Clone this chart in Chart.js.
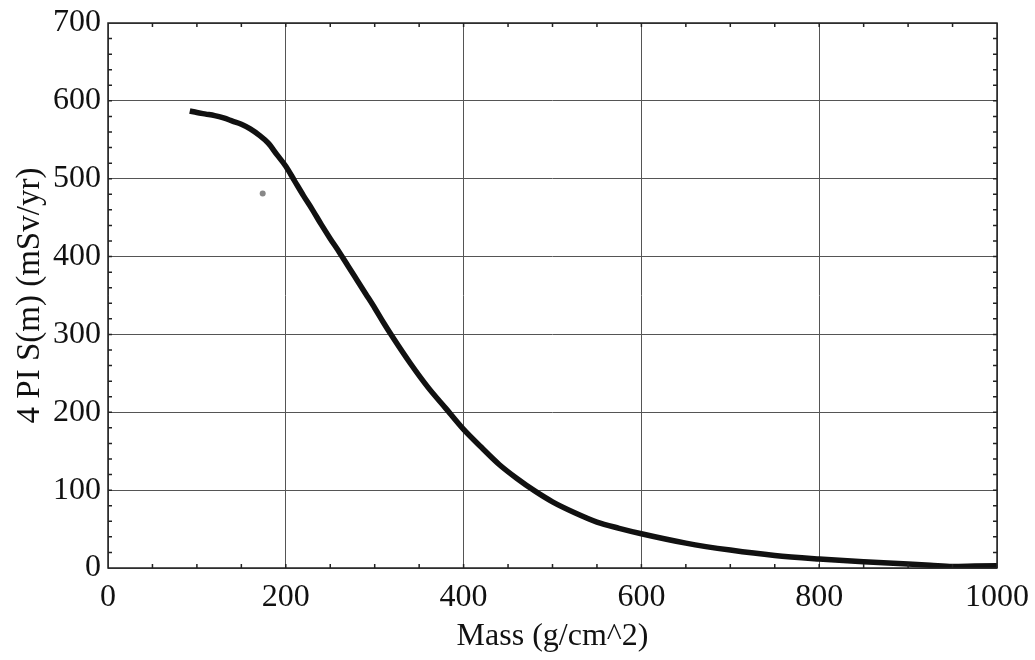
<!DOCTYPE html>
<html>
<head>
<meta charset="utf-8">
<script src="https://cdn.jsdelivr.net/npm/chart.js@4/dist/chart.umd.min.js"></script>
<style>
  html, body { margin: 0; padding: 0; background: #fff; }
  #wrap { width: 1035px; height: 660px; }
</style>
</head>
<body>
<div id="wrap"><canvas id="doseChart" width="1035" height="660"></canvas></div>
<script>
// values
const massValues = [92, 100, 110, 120, 130, 140, 150, 160, 170, 180, 190, 200, 210, 220, 230, 240, 250, 260, 270, 280, 290, 300, 310, 320, 340, 360, 380, 400, 420, 440, 460, 480, 500, 525, 550, 575, 600, 650, 700, 750, 800, 850, 900, 925, 950, 975, 1000];
const doseValues = [587, 585, 583, 581, 578, 574, 570, 564, 556, 546, 531, 516, 497, 478, 460, 441, 423, 406, 388, 370, 352, 334, 315, 297, 263, 232, 205, 178, 155, 133, 115, 99, 85, 71, 59, 51, 44, 32, 23, 16, 11.5, 8, 5, 3.5, 2, 2.5, 3];

// lone stray point near the top of the curve
const strayMass = [174];
const strayDose = [481];

const xTicks = [0, 200, 400, 600, 800, 1000];
const yTicks = [0, 100, 200, 300, 400, 500, 600, 700];

const serif = '"Liberation Serif", "DejaVu Serif", serif';

function toPoints(xs, ys) {
  return xs.map((x, i) => ({ x: x, y: ys[i] }));
}

// frame around the plot plus small inward minor ticks (Mathematica style)
const framePlugin = {
  id: 'frame',
  afterDraw(chart) {
    const ctx = chart.ctx;
    const a = chart.chartArea;
    const xs = chart.scales.x;
    const ys = chart.scales.y;
    ctx.save();
    ctx.strokeStyle = '#222';
    ctx.lineWidth = 1.5;
    ctx.strokeRect(a.left, a.top, a.right - a.left, a.bottom - a.top);

    ctx.beginPath();
    for (let v = 50; v < 1000; v += 50) {
      const px = xs.getPixelForValue(v);
      ctx.moveTo(px, a.bottom); ctx.lineTo(px, a.bottom - 4);
      ctx.moveTo(px, a.top); ctx.lineTo(px, a.top + 4);
    }
    for (let v = 20; v < 700; v += 20) {
      const py = ys.getPixelForValue(v);
      ctx.moveTo(a.left, py); ctx.lineTo(a.left + 4, py);
      ctx.moveTo(a.right, py); ctx.lineTo(a.right - 4, py);
    }
    ctx.stroke();
    ctx.restore();
  }
};

const ctx = document.getElementById('doseChart').getContext('2d');
new Chart(ctx, {
  type: 'scatter',
  data: {
    datasets: [
      {
        label: 'S(m)',
        data: toPoints(massValues, doseValues),
        showLine: true,
        borderColor: '#111',
        backgroundColor: '#111',
        borderWidth: 5.5,
        pointRadius: 0,
        cubicInterpolationMode: 'monotone',
        fill: false
      },
      {
        label: 'stray',
        data: toPoints(strayMass, strayDose),
        showLine: false,
        pointRadius: 3,
        pointBackgroundColor: '#888',
        pointBorderWidth: 0
      }
    ]
  },
  options: {
    responsive: false,
    animation: false,
    layout: { padding: { top: 23, right: 38, bottom: 0, left: 0 } },
    plugins: {
      legend: { display: false },
      tooltip: { enabled: false }
    },
    scales: {
      x: {
        type: 'linear',
        min: 0,
        max: 1000,
        afterBuildTicks(scale) { scale.ticks = xTicks.map(v => ({ value: v })); },
        afterFit(scale) {
          scale.height = 92;
          scale.paddingLeft = 0;
          scale.paddingRight = 0;
        },
        grid: { color: '#555', lineWidth: 1, drawTicks: false },
        border: { display: false },
        ticks: {
          color: '#111',
          padding: 10,
          maxRotation: 0,
          font: { family: serif, size: 32 },
          callback: v => String(v)
        },
        title: {
          display: true,
          text: 'Mass (g/cm^2)',
          color: '#111',
          font: { family: serif, size: 32 },
          padding: { top: 0, bottom: 4 }
        }
      },
      y: {
        type: 'linear',
        min: 0,
        max: 700,
        afterBuildTicks(scale) { scale.ticks = yTicks.map(v => ({ value: v })); },
        afterFit(scale) {
          scale.width = 108;
          scale.paddingTop = 0;
          scale.paddingBottom = 0;
        },
        grid: { color: '#555', lineWidth: 1, drawTicks: false },
        border: { display: false },
        ticks: {
          color: '#111',
          padding: 7,
          font: { family: serif, size: 32 },
          callback: v => String(v)
        },
        title: {
          display: true,
          text: '4 PI S(m) (mSv/yr)',
          color: '#111',
          font: { family: serif, size: 33 },
          padding: { top: 11, bottom: 0 }
        }
      }
    }
  },
  plugins: [framePlugin]
});
</script>
</body>
</html>
